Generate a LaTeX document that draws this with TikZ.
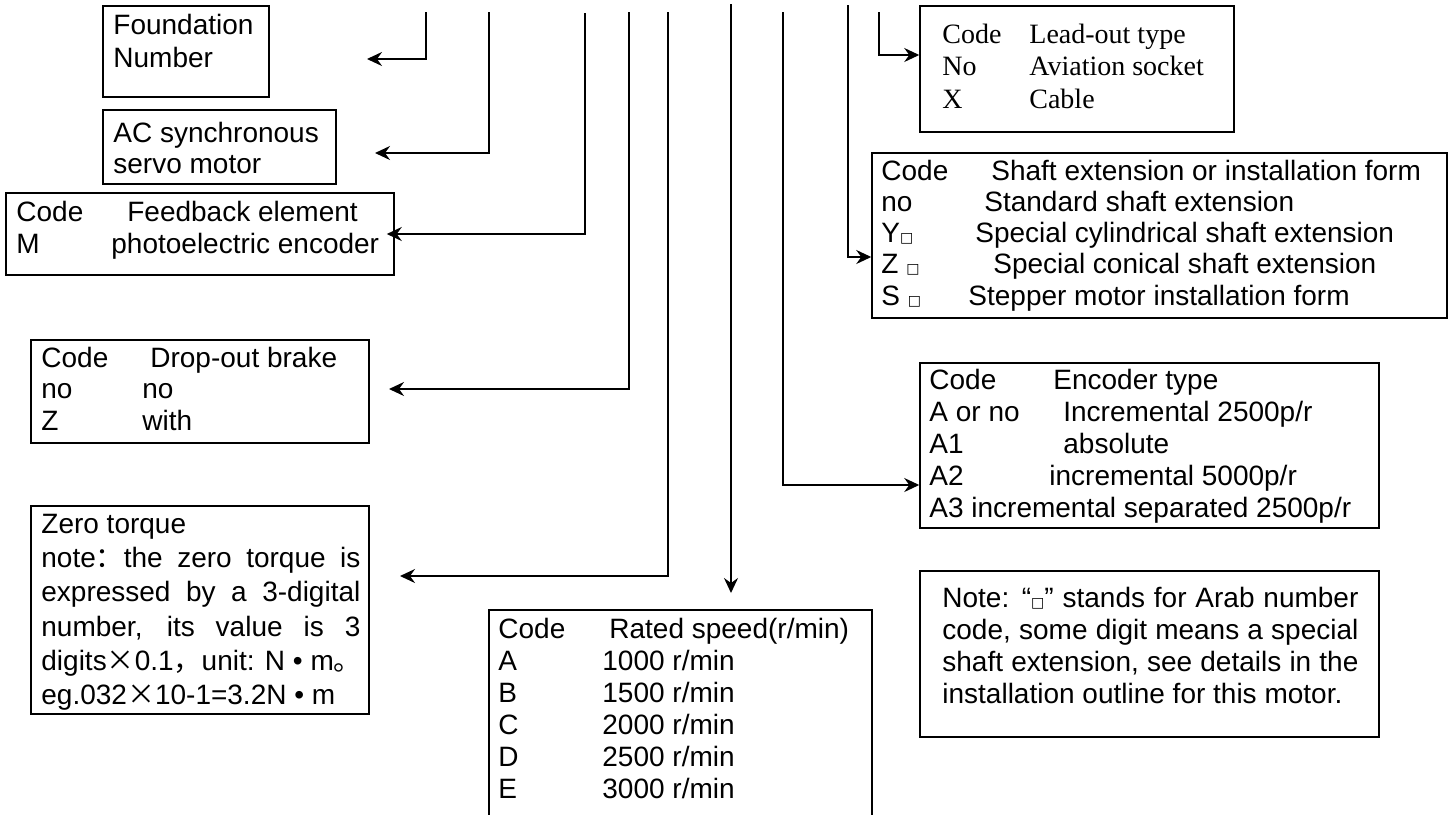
\documentclass[tikz,border=0pt]{standalone}
\usepackage{fontspec}
\setmainfont{Liberation Sans}
\newfontfamily\timesfont{Liberation Serif}
\newfontfamily\cjkfont{Noto Sans CJK SC}
\newfontfamily\symfont{DejaVu Sans}
\usetikzlibrary{arrows.meta,fit}

\newcommand\sqbox{{\symfont\fontsize{7}{7}\selectfont □}}
\newcommand\cjktimes{{\cjkfont ×}}

\tikzset{
  box/.style={draw, line width=0.75pt, inner sep=0pt},
  txt/.style={anchor=base west, inner sep=0pt, font=\fontsize{14}{16}\selectfont},
  lead/.style={line width=0.9pt},
  arr/.style={lead, -{Stealth[length=7.5pt,width=7pt,inset=2.5pt]}}
}

\begin{document}
\begin{tikzpicture}[x=0.5pt,y=-0.5pt]
\path[use as bounding box] (0,0) rectangle (1449,814);
\clip (0,0) rectangle (1449,814);

% boxes
\node[box, fit={(103,6) (269,97)}] (fnd) {};
\node[box, fit={(103,110) (336,184)}] (acs) {};
\node[box, fit={(6,193) (394,275)}] (fb) {};
\node[box, fit={(31,340) (369,443)}] (brk) {};
\node[box, fit={(31,506) (369,714)}] (zt) {};
\node[box, fit={(489,610) (872,824)}] (rs) {};
\node[box, fit={(920,6) (1234,132)}] (lo) {};
\node[box, fit={(872,153) (1447,318)}] (sh) {};
\node[box, fit={(920,363) (1379,528)}] (enc) {};
\node[box, fit={(920,571) (1379,737)}] (note) {};

% left side
\node[txt] (fnd1) at (113,34) {Foundation};
\node[txt] (fnd2) at (113,67) {Number};
\node[txt] (acs1) at (113,142) {AC synchronous};
\node[txt] (acs2) at (113,173) {servo motor};
\node[txt] (fb1) at (16,221) {\makebox[55.5pt][l]{Code}Feedback element};
\node[txt] (fb2) at (16,253) {\makebox[47.5pt][l]{M}photoelectric encoder};
\foreach \c/\d/\w/\y [count=\i] in {Code/Drop-out brake/54.5/367, no/no/50.5/398, Z/with/50.5/430}
  \node[txt] (brk\i) at (41,\y) {\makebox[\w pt][l]{\c}\d};
\node[txt] (zt1) at (41,533) {Zero torque};
\node[txt] (zt2) at (41,567) {\makebox[159.5pt][s]{note{\cjkfont ：}the zero torque is}};
\node[txt] (zt3) at (41,601) {\makebox[159.5pt][s]{expressed by a 3-digital}};
\node[txt] (zt4) at (41,636) {\makebox[159.5pt][s]{number, its value is 3}};
\node[txt] (zt5) at (41,670) {digits\cjktimes 0.1{\cjkfont ，}unit: N • m{\cjkfont 。}};
\node[txt] (zt6) at (41,704) {eg.032\cjktimes 10-1=3.2N • m};

% middle
\foreach \c/\d/\w/\y [count=\i] in {Code/{Rated speed(r/min)}/55.5/638, A/{1000 r/min}/52/670,
    B/{1500 r/min}/52/702, C/{2000 r/min}/52/734, D/{2500 r/min}/52/766, E/{3000 r/min}/52/798}
  \node[txt] (rs\i) at (498,\y) {\makebox[\w pt][l]{\c}\d};

% right side
\foreach \c/\d/\y [count=\i] in {Code/Lead-out type/43, No/Aviation socket/75, X/Cable/108}
  \node[txt, font=\fontsize{14}{16}\selectfont\timesfont] (lo\i) at (942,\y) {\makebox[43.5pt][l]{\c}\d};
\foreach \c/\d/\w/\y [count=\i] in {Code/Shaft extension or installation form/55/180,
    no/Standard shaft extension/51.5/211, Y\sqbox/Special cylindrical shaft extension/47/242,
    Z \sqbox/Special conical shaft extension/56/273, S \sqbox/Stepper motor installation form/43.5/305}
  \node[txt] (sh\i) at (881,\y) {\makebox[\w pt][l]{\c}\d};
\foreach \c/\d/\w/\y [count=\i] in {Code/Encoder type/62/389, A or no/{Incremental 2500p/r}/67/421,
    A1/absolute/67/453, A2/{incremental 5000p/r}/60/485}
  \node[txt] (enc\i) at (929,\y) {\makebox[\w pt][l]{\c}\d};
\node[txt] (enc5) at (929,517) {A3 incremental separated 2500p/r};
\node[txt] (note1) at (942,607) {\makebox[208pt][s]{Note: “\sqbox” stands for Arab number}};
\node[txt] (note2) at (942,639) {\makebox[208pt][s]{code, some digit means a special}};
\node[txt] (note3) at (942,671) {\makebox[208pt][s]{shaft extension, see details in the}};
\node[txt] (note4) at (942,703) {installation outline for this motor.};

% leads
\coordinate (t1) at (426,12); \coordinate (e1) at (367,59);
\coordinate (t2) at (489,12); \coordinate (e2) at (375,153);
\coordinate (t3) at (585,13);
\coordinate (t4) at (629,12); \coordinate (e4) at (389,389);
\coordinate (t5) at (668,12); \coordinate (e5) at (400,576);
\coordinate (t6) at (731,4);  \coordinate (e6) at (731,593);
\coordinate (t7) at (879,12); \coordinate (y7) at (0,55);
\coordinate (t8) at (848,5);  \coordinate (y8) at (0,257);
\coordinate (t9) at (783,12); \coordinate (y9) at (0,485);

\draw[arr] (t1) |- (e1);
\draw[arr] (t2) |- (e2);
\draw[arr, shorten >=-4pt] (t3) |- (fb.east);
\draw[arr] (t4) |- (e4);
\draw[arr] (t5) |- (e5);
\draw[arr] (t6) -- (e6);
\draw[arr] (t7) |- (lo.west |- y7);
\draw[arr] (t8) |- (sh.west |- y8);
\draw[arr] (t9) |- (enc.west |- y9);
\end{tikzpicture}
\end{document}
